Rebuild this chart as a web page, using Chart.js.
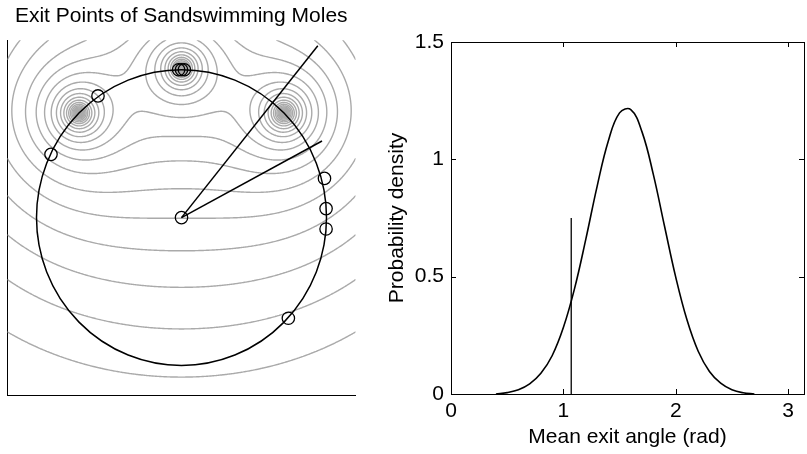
<!DOCTYPE html>
<html>
<head>
<meta charset="utf-8">
<script src="https://cdn.jsdelivr.net/npm/chart.js@4.4.1/dist/chart.umd.min.js"></script>
<style>
	html, body { margin: 0; padding: 0; background: #fff; }
	#wrap { position: relative; width: 807px; height: 454px; }
	canvas { position: absolute; top: 0; }
</style>
</head>
<body>
<div id="wrap">
	<canvas id="chart-exit" width="363" height="454" style="left:0"></canvas>
	<canvas id="chart-density" width="427" height="454" style="left:380px"></canvas>
</div>
<script>
// exit points on the unit circle
var exitX = [-0.576, -0.90, -0.02, 0.0, 0.02, 0.986, 0.997, 0.997, 0.737, 0.0];
var exitY = [0.823, 0.428, 1.0, 1.0, 1.0, 0.265, 0.061, -0.077, -0.681, 0.0];

// two direction lines from the centre
var rayEndX = [0.94, 0.969];
var rayEndY = [1.163, 0.518];

// vibration sources (contour peaks) and contour levels
var sourceX = [-0.707, 0.0, 0.707];
var sourceY = [0.707, 1.01, 0.707];
var contourLevels = [1.52, 1.80, 2.13, 2.52, 2.98, 3.52, 4.17, 4.93, 5.83, 6.90, 8.16, 9.65,
	11.4, 13.5, 16.0, 18.9, 22.4, 26.5, 31.3, 37.0, 43.8, 51.8, 61.3, 72.5, 85.8, 101.5, 120, 142];

// density of mean exit angle
var angles = [0.4, 0.5, 0.6, 0.7, 0.8, 0.9, 1.0, 1.1, 1.2, 1.3, 1.4, 1.5, 1.6, 1.7, 1.8, 1.9,
	2.0, 2.1, 2.2, 2.3, 2.4, 2.5, 2.6, 2.7];
var density = [0.0, 0.006, 0.018, 0.043, 0.088, 0.163, 0.283, 0.45, 0.66, 0.884, 1.078, 1.198,
	1.212, 1.117, 0.937, 0.716, 0.498, 0.316, 0.182, 0.096, 0.046, 0.018, 0.005, 0.0];
var observedAngle = 1.07;
var observedHeight = 0.75;

var yTicks = [0, 0.5, 1, 1.5];
var xTicks = [0, 1, 2, 3];

Chart.defaults.font.family = "'Liberation Sans', Arial, Helvetica, sans-serif";
Chart.defaults.color = '#000';

function field(px, py) {
	var f = 0;
	for (var k = 0; k < sourceX.length; k++) {
		var d = Math.hypot(px - sourceX[k], py - sourceY[k]);
		f += 1 / Math.max(d, 1e-4);
	}
	return f;
}

var contourPlugin = {
	id: 'contours',
	beforeDatasetsDraw: function(chart) {
		var ctx = chart.ctx, area = chart.chartArea;
		var sx = chart.scales.x, sy = chart.scales.y;
		var n = 320;
		var gx = [], gy = [], px = [], py = [], v = [];
		for (var i = 0; i <= n; i++) {
			gx.push(sx.min + (sx.max - sx.min) * i / n);
			gy.push(sy.min + (sy.max - sy.min) * i / n);
			px.push(sx.getPixelForValue(gx[i]));
			py.push(sy.getPixelForValue(gy[i]));
		}
		for (var j = 0; j <= n; j++) {
			var row = [];
			for (var i = 0; i <= n; i++) row.push(field(gx[i], gy[j]));
			v.push(row);
		}
		ctx.save();
		ctx.beginPath();
		ctx.rect(area.left, area.top, area.right - area.left, area.bottom - area.top);
		ctx.clip();
		ctx.strokeStyle = '#aaaaaa';
		ctx.lineWidth = 1.4;
		ctx.lineCap = 'round';
		contourLevels.forEach(function(L) {
			ctx.beginPath();
			for (var j = 0; j < n; j++) {
				for (var i = 0; i < n; i++) {
					var a = v[j][i], b = v[j][i + 1], c = v[j + 1][i + 1], d = v[j + 1][i];
					var pts = [];
					if ((a - L) * (b - L) < 0) { var t = (L - a) / (b - a); pts.push([px[i] + t * (px[i + 1] - px[i]), py[j]]); }
					if ((b - L) * (c - L) < 0) { var t = (L - b) / (c - b); pts.push([px[i + 1], py[j] + t * (py[j + 1] - py[j])]); }
					if ((c - L) * (d - L) < 0) { var t = (L - c) / (d - c); pts.push([px[i + 1] + t * (px[i] - px[i + 1]), py[j + 1]]); }
					if ((d - L) * (a - L) < 0) { var t = (L - d) / (a - d); pts.push([px[i], py[j + 1] + t * (py[j] - py[j + 1])]); }
					for (var k = 0; k + 1 < pts.length; k += 2) {
						ctx.moveTo(pts[k][0], pts[k][1]);
						ctx.lineTo(pts[k + 1][0], pts[k + 1][1]);
					}
				}
			}
			ctx.stroke();
		});
		// unit circle
		var cx = sx.getPixelForValue(0), cy = sy.getPixelForValue(0);
		var rx = sx.getPixelForValue(1) - cx, ry = cy - sy.getPixelForValue(1);
		ctx.beginPath();
		ctx.ellipse(cx, cy, rx, ry, 0, 0, Math.PI * 2);
		ctx.strokeStyle = '#000';
		ctx.lineWidth = 1.5;
		ctx.stroke();
		ctx.restore();
	}
};

var exitPoints = exitX.map(function(x, i) { return {x: x, y: exitY[i]}; });
var rayDatasets = rayEndX.map(function(x, i) {
	return {
		type: 'line',
		data: [{x: 0, y: 0}, {x: x, y: rayEndY[i]}],
		borderColor: '#000',
		borderWidth: 1.5,
		pointRadius: 0
	};
});

var configChartExit = {
	type: 'scatter',
	data: {
		datasets: rayDatasets.concat([{
			data: exitPoints,
			pointStyle: 'circle',
			pointRadius: 6.2,
			borderColor: '#000',
			borderWidth: 1.3,
			backgroundColor: 'rgba(0,0,0,0)'
		}])
	},
	options: {
		responsive: false,
		animation: false,
		layout: { padding: { left: 1.5, right: 2, top: 0, bottom: 59 } },
		scales: {
			x: {
				min: -1.2, max: 1.2,
				ticks: { display: false },
				grid: { display: false },
				border: { display: true, color: '#000', width: 1 },
				afterFit: function(scale) { scale.height = 0; }
			},
			y: {
				min: -1.2, max: 1.2,
				ticks: { display: false },
				grid: { display: false },
				border: { display: true, color: '#000', width: 1 },
				afterFit: function(scale) { scale.width = 0; }
			}
		},
		plugins: {
			legend: { display: false },
			tooltip: { enabled: false },
			title: {
				display: true,
				text: 'Exit Points of Sandswimming Moles',
				font: { size: 21, weight: 'normal' },
				padding: { top: 4, bottom: 11 }
			}
		}
	},
	plugins: [contourPlugin]
};

var ctx = document.getElementById('chart-exit').getContext('2d');
var chartExit = new Chart(ctx, configChartExit);

// box and inward ticks like the original axes
var boxPlugin = {
	id: 'box',
	afterDraw: function(chart) {
		var c = chart.ctx, a = chart.chartArea;
		var sx = chart.scales.x, sy = chart.scales.y;
		var tl = 5;
		c.save();
		c.strokeStyle = '#000';
		c.lineWidth = 1;
		c.strokeRect(Math.round(a.left) + 0.5, Math.round(a.top) + 0.5, Math.round(a.right - a.left), Math.round(a.bottom - a.top));
		c.beginPath();
		xTicks.forEach(function(t) {
			var p = Math.round(sx.getPixelForValue(t)) + 0.5;
			c.moveTo(p, a.bottom); c.lineTo(p, a.bottom - tl);
			c.moveTo(p, a.top); c.lineTo(p, a.top + tl);
		});
		yTicks.forEach(function(t) {
			var p = Math.round(sy.getPixelForValue(t)) + 0.5;
			c.moveTo(a.left, p); c.lineTo(a.left + tl, p);
			c.moveTo(a.right, p); c.lineTo(a.right - tl, p);
		});
		c.stroke();
		c.restore();
	}
};

var configChartDensity = {
	type: 'line',
	data: {
		datasets: [{
			data: angles.map(function(x, i) { return {x: x, y: density[i]}; }),
			borderColor: '#000',
			borderWidth: 1.6,
			pointRadius: 0,
			tension: 0.4
		}, {
			data: [{x: observedAngle, y: 0}, {x: observedAngle, y: observedHeight}],
			borderColor: '#000',
			borderWidth: 1.3,
			pointRadius: 0
		}]
	},
	options: {
		responsive: false,
		animation: false,
		layout: { padding: { left: 0, right: 3, top: 42, bottom: 0 } },
		scales: {
			x: {
				type: 'linear',
				min: 0, max: Math.PI,
				ticks: { stepSize: 1, includeBounds: false, padding: 5, font: { size: 21 } },
				grid: { display: false, drawTicks: false },
				border: { display: false },
				title: { display: true, text: 'Mean exit angle (rad)', font: { size: 21 }, padding: { bottom: 4 } },
				afterFit: function(scale) { scale.height = 60; }
			},
			y: {
				min: 0, max: 1.5,
				ticks: {
					stepSize: 0.5, padding: 7, font: { size: 21 },
					callback: function(value) { return String(value); }
				},
				grid: { display: false, drawTicks: false },
				border: { display: false },
				title: { display: true, text: 'Probability density', font: { size: 21 }, padding: { top: 5 } },
				afterFit: function(scale) { scale.width = 71; }
			}
		},
		plugins: {
			legend: { display: false },
			tooltip: { enabled: false }
		}
	},
	plugins: [boxPlugin]
};

var ctx2 = document.getElementById('chart-density').getContext('2d');
var chartDensity = new Chart(ctx2, configChartDensity);
</script>
</body>
</html>
